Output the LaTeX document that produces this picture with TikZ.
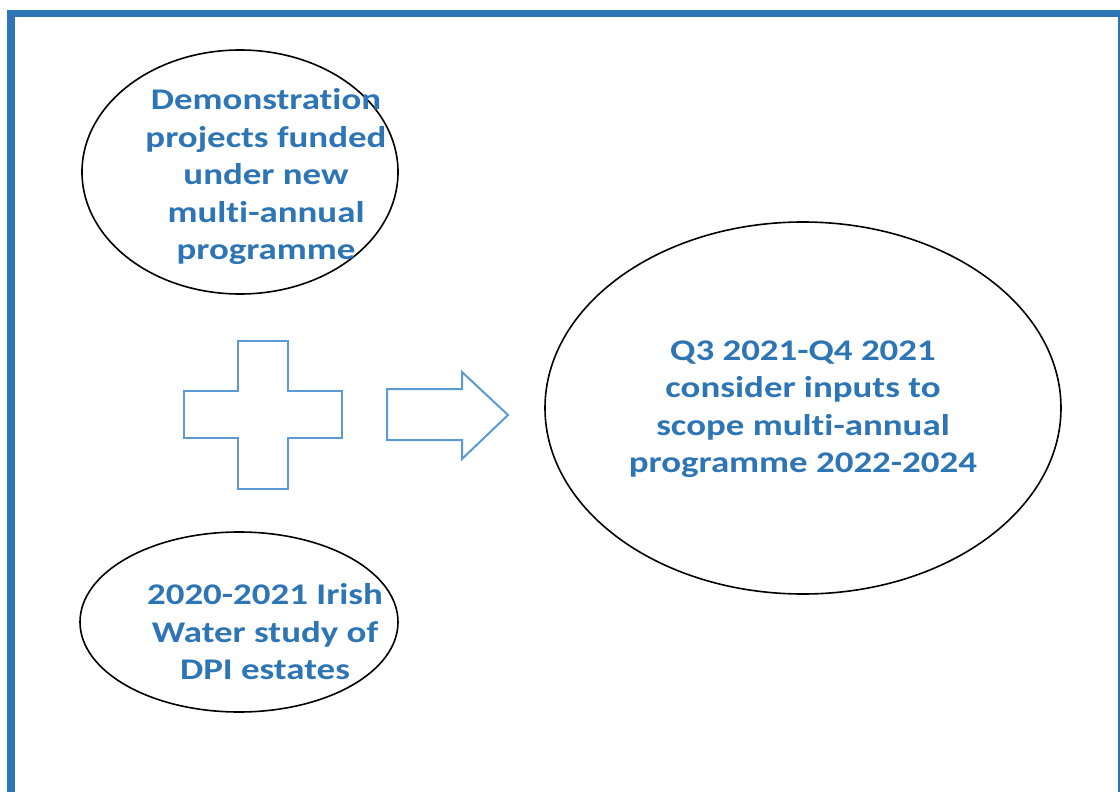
\documentclass[tikz,border=0pt]{standalone}
\usepackage{fontspec}
\setmainfont{Carlito}[Ligatures={NoCommon}]
\usetikzlibrary{shapes.geometric}
\definecolor{frameblue}{HTML}{2E75B6}
\definecolor{txtblue}{HTML}{2E75B6}
\definecolor{shapeblue}{HTML}{5B9BD5}
\tikzset{
  oval/.style={draw=black, line width=1.6pt, ellipse, inner sep=0pt},
  lbl/.style={text=txtblue, font=\bfseries\fontsize{30}{37.5}\selectfont, align=center, xscale=1.23, transform shape},
  outl/.style={draw=shapeblue, line width=2pt, line join=miter}
}
\begin{document}
\begin{tikzpicture}[x=1pt,y=-1pt]
\useasboundingbox (0,0) rectangle (1120,792);
\fill[white] (0,0) rectangle (1120,792);
% frame
\fill[frameblue] (7,10) rectangle (1120,17.5);
\fill[frameblue] (7,10) rectangle (15,792);
\fill[frameblue] (1118.3,17) rectangle (1119.6,792);
% ellipses
\node[oval, minimum width=316pt, minimum height=244pt] (e1) at (240,172) {};
\node[oval, minimum width=318pt, minimum height=180pt] (e2) at (239,622) {};
\node[oval, minimum width=516pt, minimum height=372pt] (e3) at (803,408) {};
% labels
\node[lbl] (t1) at (266,177) {Demonstration\\projects funded\\under new\\multi-annual\\programme};
\node[lbl] (t2) at (265,632) {2020-2021 Irish\\Water study of\\DPI estates};
\node[lbl] (t3) at (803,409) {Q3 2021-Q4 2021\\consider inputs to\\scope multi-annual\\programme 2022-2024};
% plus
\draw[outl] (238,341) -- (288,341) -- (288,391) -- (342,391) -- (342,438) -- (288,438) -- (288,489) -- (238,489) -- (238,438) -- (184,438) -- (184,391) -- (238,391) -- cycle;
% arrow
\draw[outl] (387,389) -- (462,389) -- (462,372) -- (508,415) -- (462,459) -- (462,440) -- (387,440) -- cycle;
\end{tikzpicture}
\end{document}
